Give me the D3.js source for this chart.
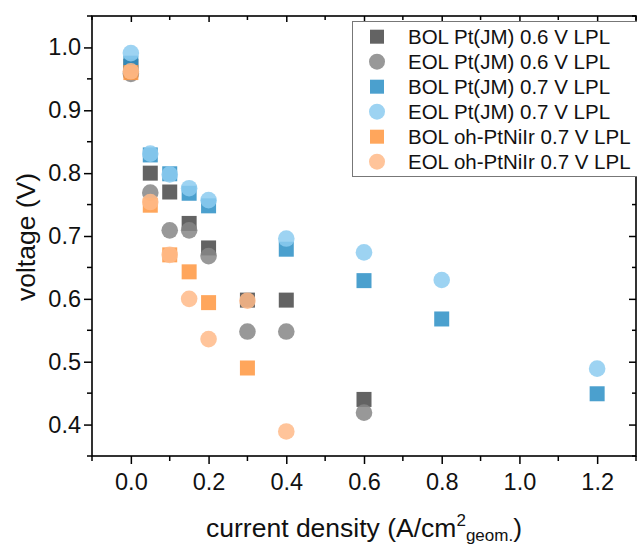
<!DOCTYPE html>
<html><head><meta charset="utf-8">
<script src="https://cdn.jsdelivr.net/npm/d3@7"></script>
<style>
html,body{margin:0;padding:0;background:#fff;}
svg{display:block;font-family:"Liberation Sans",Arial,sans-serif;}
</style></head>
<body>
<svg id="chart" width="637" height="544"></svg>
<script>
// ---- data ----
const seriesNames = ["BOL Pt(JM) 0.6 V LPL","EOL Pt(JM) 0.6 V LPL","BOL Pt(JM) 0.7 V LPL","EOL Pt(JM) 0.7 V LPL","BOL oh-PtNiIr 0.7 V LPL","EOL oh-PtNiIr 0.7 V LPL"];
const seriesShapes = ["square","circle","square","circle","square","circle"];
const seriesColors = ["#484848","#868686","#2c8fc5","#8ccbf0","#ff973f","#ffba88"];

const bol06X = [0, 0.05, 0.1, 0.15, 0.2, 0.3, 0.4, 0.6];
const bol06Y = [0.970, 0.800, 0.770, 0.720, 0.681, 0.598, 0.598, 0.440];
const eol06X = [0, 0.05, 0.1, 0.15, 0.2, 0.3, 0.4, 0.6];
const eol06Y = [0.958, 0.769, 0.709, 0.709, 0.668, 0.548, 0.548, 0.419];
const bol07X = [0, 0.05, 0.1, 0.15, 0.2, 0.4, 0.6, 0.8, 1.2];
const bol07Y = [0.975, 0.829, 0.799, 0.768, 0.748, 0.679, 0.629, 0.568, 0.449];
const eol07X = [0, 0.05, 0.1, 0.15, 0.2, 0.4, 0.6, 0.8, 1.2];
const eol07Y = [0.991, 0.831, 0.798, 0.776, 0.757, 0.696, 0.674, 0.630, 0.489];
const bolOhX = [0, 0.05, 0.1, 0.15, 0.2, 0.3];
const bolOhY = [0.960, 0.749, 0.670, 0.643, 0.594, 0.490];
const eolOhX = [0, 0.05, 0.1, 0.15, 0.2, 0.3, 0.4];
const eolOhY = [0.962, 0.754, 0.670, 0.600, 0.536, 0.597, 0.389];

const xMajorTicks = [0, 0.2, 0.4, 0.6, 0.8, 1.0, 1.2];
const xMinorTicks = [-0.1, 0.1, 0.3, 0.5, 0.7, 0.9, 1.1, 1.3];
const yMajorTicks = [0.4, 0.5, 0.6, 0.7, 0.8, 0.9, 1.0];
const yMinorTicks = [0.35, 0.45, 0.55, 0.65, 0.75, 0.85, 0.95, 1.05];

const seriesX = [bol06X, eol06X, bol07X, eol07X, bolOhX, eolOhX];
const seriesY = [bol06Y, eol06Y, bol07Y, eol07Y, bolOhY, eolOhY];

(function(){
// ---- layout ----
const L = 92, R = 636, T = 16, B = 456;
const svg = d3.select("#chart");
const x = d3.scaleLinear().domain([-0.1, 1.3]).range([L, R]);
const y = d3.scaleLinear().domain([0.35, 1.05]).range([B, T]);
const fmt = d3.format(".1f");

// data markers
const sqSize = 15, circR = 8.3, alpha = 0.85;
seriesNames.forEach((name, i) => {
  const pts = seriesX[i].map((v, j) => ({x: v, y: seriesY[i][j]}));
  const g = svg.append("g");
  if (seriesShapes[i] === "square") {
    g.selectAll("rect").data(pts).join("rect")
      .attr("x", d => x(d.x) - sqSize/2).attr("y", d => y(d.y) - sqSize/2)
      .attr("width", sqSize).attr("height", sqSize)
      .attr("fill", seriesColors[i]).attr("fill-opacity", alpha);
  } else {
    g.selectAll("circle").data(pts).join("circle")
      .attr("cx", d => x(d.x)).attr("cy", d => y(d.y)).attr("r", circR)
      .attr("fill", seriesColors[i]).attr("fill-opacity", alpha);
  }
});

// axes
const gB = svg.append("g").attr("transform", `translate(0,${B})`)
  .call(d3.axisBottom(x).tickValues(xMajorTicks).tickFormat(fmt).tickSize(8).tickSizeOuter(0).tickPadding(9));
gB.append("g").selectAll("line").data(xMinorTicks).join("line")
  .attr("x1", d => x(d)).attr("x2", d => x(d)).attr("y1", 0).attr("y2", 5);
const gL = svg.append("g").attr("transform", `translate(${L},0)`)
  .call(d3.axisLeft(y).tickValues(yMajorTicks).tickFormat(fmt).tickSize(8).tickSizeOuter(0).tickPadding(3));
gL.append("g").selectAll("line").data(yMinorTicks).join("line")
  .attr("x1", 0).attr("x2", -5).attr("y1", d => y(d)).attr("y2", d => y(d));
// mirrored inward ticks
const gT = svg.append("g").attr("transform", `translate(0,${T})`)
  .call(d3.axisTop(x).tickValues(xMajorTicks).tickFormat("").tickSize(-6).tickSizeOuter(0));
gT.append("g").selectAll("line").data(xMinorTicks).join("line")
  .attr("x1", d => x(d)).attr("x2", d => x(d)).attr("y1", 0).attr("y2", 4);
const gR = svg.append("g").attr("transform", `translate(${R},0)`)
  .call(d3.axisRight(y).tickValues(yMajorTicks).tickFormat("").tickSize(-7).tickSizeOuter(0));
gR.append("g").selectAll("line").data(yMinorTicks).join("line")
  .attr("x1", 0).attr("x2", -4).attr("y1", d => y(d)).attr("y2", d => y(d));

svg.selectAll(".domain").remove();
svg.selectAll("line").attr("stroke", "#000").attr("stroke-width", 1.5);
svg.selectAll(".tick text").attr("font-size", 23.5).attr("fill", "#111")
  .attr("font-family", "Liberation Sans, Arial, sans-serif");

// frame
svg.append("rect").attr("x", L).attr("y", T).attr("width", R - L).attr("height", B - T)
  .attr("fill", "none").attr("stroke", "#000").attr("stroke-width", 1.6);

// axis titles
svg.append("text").attr("transform", `translate(35,${(T+B)/2 + 1}) rotate(-90)`)
  .attr("text-anchor", "middle").attr("font-size", 26.5).attr("fill", "#111").text("voltage (V)");
const xt = svg.append("text").attr("x", 364).attr("y", 537).attr("text-anchor", "middle")
  .attr("font-size", 26.5).attr("fill", "#111");
xt.append("tspan").text("current density (A/cm");
xt.append("tspan").attr("font-size", 17).attr("dy", -11).text("2");
xt.append("tspan").attr("font-size", 17).attr("dy", 15).text("geom.");
xt.append("tspan").attr("dy", -4).text(")");

// legend
const lg = svg.append("g");
lg.append("rect").attr("x", 352.5).attr("y", 21.5).attr("width", 300).attr("height", 155)
  .attr("fill", "#fff").attr("stroke", "#777").attr("stroke-width", 1);
seriesNames.forEach((name, i) => {
  const cy = 36.7 + i * 25, cx = 377;
  if (seriesShapes[i] === "square") {
    lg.append("rect").attr("x", cx - 7).attr("y", cy - 7).attr("width", 14).attr("height", 14)
      .attr("fill", seriesColors[i]).attr("fill-opacity", alpha);
  } else {
    lg.append("circle").attr("cx", cx).attr("cy", cy).attr("r", 8)
      .attr("fill", seriesColors[i]).attr("fill-opacity", alpha);
  }
  lg.append("text").attr("x", 408).attr("y", cy + 7.3).attr("font-size", 20.5).attr("fill", "#111").text(name);
});
})();
</script>
</body></html>
